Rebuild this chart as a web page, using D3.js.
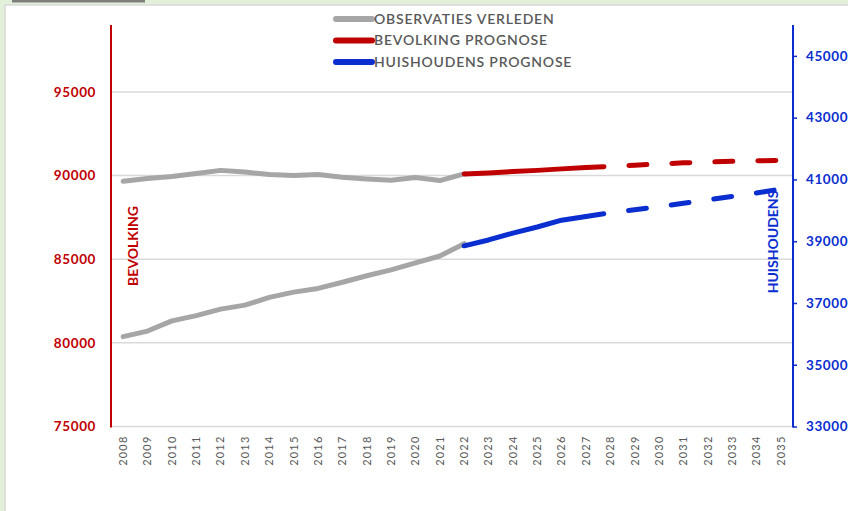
<!DOCTYPE html>
<html>
<head>
<meta charset="utf-8">
<script src="https://cdn.jsdelivr.net/npm/d3@7"></script>
<style>
  html, body { margin: 0; padding: 0; background: #ffffff; }
  svg { display: block; }
  text { font-family: Lato, "Open Sans", sans-serif; }
</style>
</head>
<body>
<svg id="chart" width="848" height="511"></svg>
<script>
// Years on the category axis
const years = d3.range(2008, 2036).map(String);

// Observed population (left axis), 2008–2022
const bevolkingObs = [89660, 89820, 89940, 90120, 90310, 90210, 90060, 90000, 90060, 89900, 89800, 89720, 89880, 89700, 90100];
// Observed households (right axis), 2008–2022
const huishoudensObs = [35910, 36090, 36420, 36590, 36800, 36930, 37180, 37350, 37470, 37670, 37880, 38070, 38300, 38520, 38920];

// Projections 2022–2035
const bevolkingProg = [90100, 90160, 90240, 90310, 90400, 90480, 90550, 90620, 90690, 90760, 90810, 90850, 90880, 90900];
const huishoudensProg = [38850, 39040, 39260, 39460, 39680, 39800, 39920, 40020, 40120, 40230, 40340, 40450, 40560, 40690];

const leftTicks = [75000, 80000, 85000, 90000, 95000];
const rightTicks = [33000, 35000, 37000, 39000, 41000, 43000, 45000];

const legendItems = [
  { label: "OBSERVATIES VERLEDEN", color: "#a6a6a6" },
  { label: "BEVOLKING PROGNOSE", color: "#c00000" },
  { label: "HUISHOUDENS PROGNOSE", color: "#0a2ed0" }
];

const RED = "#c00000", BLUE = "#0a2ed0", GRAY = "#a6a6a6", TEXT = "#595959";

const svg = d3.select("#chart");

// Page frame
svg.append("rect").attr("x", 0).attr("y", 0).attr("width", 848).attr("height", 511).attr("fill", "#e3f0d9");
svg.append("rect").attr("x", 5).attr("y", 5).attr("width", 850).attr("height", 510)
  .attr("fill", "#ffffff").attr("stroke", "#d9d9d9").attr("stroke-width", 1.5);
svg.append("rect").attr("x", 12).attr("y", 0).attr("width", 133).attr("height", 2.5).attr("fill", "#7f7f7f");

const plot = { left: 111, right: 793, top: 25, bottom: 426.5 };

const x = d3.scaleBand().domain(years).range([plot.left, plot.right]);
const xc = d => x(d) + x.bandwidth() / 2;
const yL = d3.scaleLinear().domain([75000, 99000]).range([plot.bottom, plot.top]);
const yR = d3.scaleLinear().domain([33000, 46000]).range([plot.bottom, plot.top]);

// Gridlines
svg.append("g").selectAll("line").data(leftTicks).join("line")
  .attr("x1", plot.left).attr("x2", plot.right)
  .attr("y1", d => yL(d)).attr("y2", d => yL(d))
  .attr("stroke", "#d9d9d9").attr("stroke-width", 1.5);

// Left axis
const axL = svg.append("g").attr("transform", `translate(${plot.left},0)`)
  .call(d3.axisLeft(yL).tickValues(leftTicks).tickSize(0).tickPadding(15).tickFormat(d3.format("d")));
axL.select(".domain").remove();
axL.selectAll("text").attr("fill", RED).attr("font-size", 13.5).attr("font-weight", 700)
  .attr("letter-spacing", 0.6);
svg.append("line").attr("x1", plot.left).attr("x2", plot.left).attr("y1", plot.top).attr("y2", plot.bottom + 1)
  .attr("stroke", RED).attr("stroke-width", 2);

// Right axis
const axR = svg.append("g").attr("transform", `translate(${plot.right},0)`)
  .call(d3.axisRight(yR).tickValues(rightTicks).tickSize(4).tickPadding(9).tickFormat(d3.format("d")));
axR.select(".domain").remove();
axR.selectAll("line").attr("stroke", BLUE).attr("stroke-width", 1.5);
axR.selectAll("text").attr("fill", BLUE).attr("font-size", 13.5).attr("font-weight", 700)
  .attr("letter-spacing", 0.6);
svg.append("line").attr("x1", plot.right).attr("x2", plot.right).attr("y1", plot.top).attr("y2", plot.bottom + 1)
  .attr("stroke", BLUE).attr("stroke-width", 2);

// Category axis labels
const axX = svg.append("g").attr("transform", `translate(0,${plot.bottom})`)
  .call(d3.axisBottom(x).tickSize(0).tickPadding(0));
axX.select(".domain").remove();
axX.selectAll("text")
  .attr("transform", "rotate(-90)")
  .attr("text-anchor", "end")
  .attr("dx", "-9")
  .attr("dy", "0.35em")
  .attr("y", 0)
  .attr("fill", TEXT).attr("font-size", 11).attr("letter-spacing", 1.2);

// Axis titles
svg.append("text").attr("transform", `translate(138,246) rotate(-90)`)
  .attr("text-anchor", "middle").attr("fill", RED).attr("font-size", 14).attr("font-weight", 700)
  .text("BEVOLKING");
svg.append("text").attr("transform", `translate(778,242) rotate(-90)`)
  .attr("text-anchor", "middle").attr("fill", BLUE).attr("font-size", 14).attr("font-weight", 700)
  .text("HUISHOUDENS");

// Series lines
const obsYears = years.slice(0, bevolkingObs.length);
const progYears = years.slice(years.length - bevolkingProg.length);
const splitIdx = progYears.indexOf("2027");

function drawLine(yrs, vals, yScale, color, dashed) {
  const line = d3.line().x((d, i) => xc(yrs[i])).y(d => yScale(d));
  const p = svg.append("path").datum(vals).attr("d", line)
    .attr("fill", "none").attr("stroke", color).attr("stroke-width", 5)
    .attr("stroke-linecap", "round").attr("stroke-linejoin", "round");
  if (dashed) p.attr("stroke-dasharray", "18,25");
}

drawLine(obsYears, bevolkingObs, yL, GRAY, false);
drawLine(obsYears, huishoudensObs, yR, GRAY, false);
drawLine(progYears.slice(0, splitIdx + 1), bevolkingProg.slice(0, splitIdx + 1), yL, RED, false);
drawLine(progYears.slice(splitIdx), bevolkingProg.slice(splitIdx), yL, RED, true);
drawLine(progYears.slice(0, splitIdx + 1), huishoudensProg.slice(0, splitIdx + 1), yR, BLUE, false);
drawLine(progYears.slice(splitIdx), huishoudensProg.slice(splitIdx), yR, BLUE, true);

// Legend
const lg = svg.append("g").selectAll("g").data(legendItems).join("g")
  .attr("transform", (d, i) => `translate(336,${19 + i * 21.5})`);
lg.append("line").attr("x1", 0).attr("x2", 36).attr("y1", 0).attr("y2", 0)
  .attr("stroke", d => d.color).attr("stroke-width", 6).attr("stroke-linecap", "round");
lg.append("text").attr("x", 38).attr("y", 0).attr("dy", "0.35em")
  .attr("fill", TEXT).attr("font-size", 14).attr("font-weight", 600).attr("letter-spacing", 0.8)
  .text(d => d.label);
</script>
</body>
</html>
